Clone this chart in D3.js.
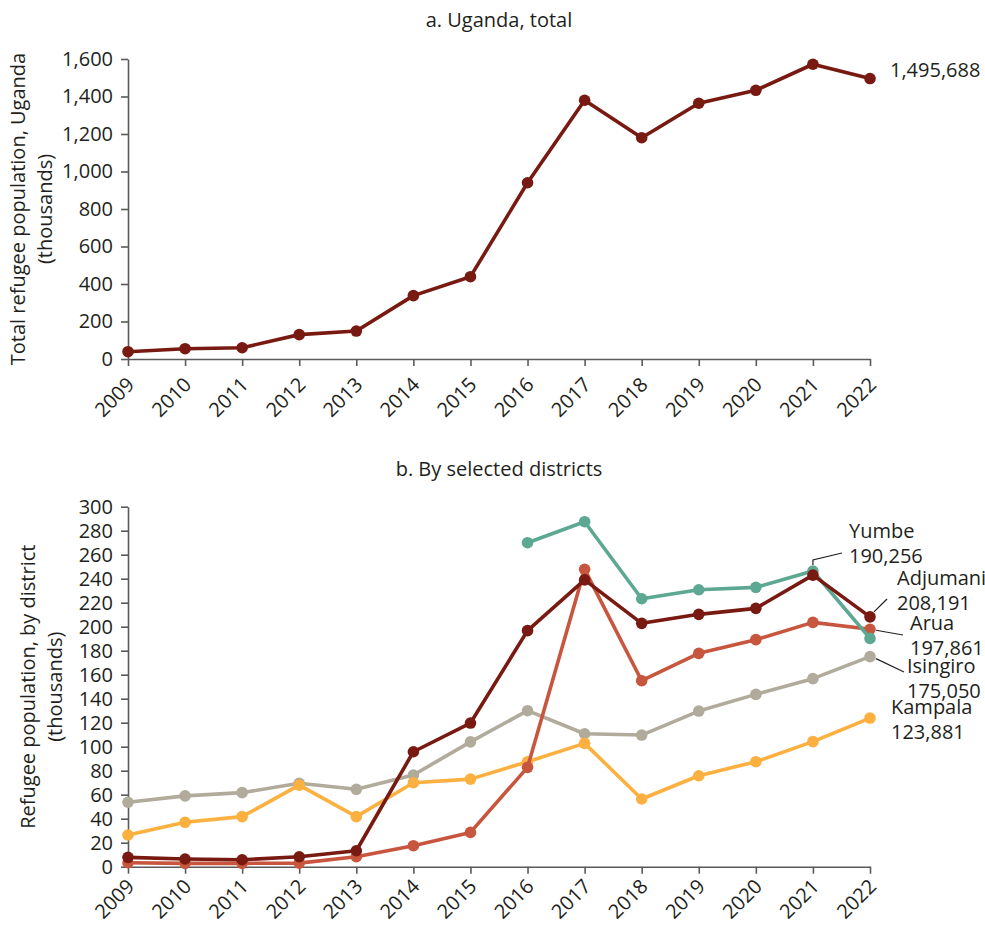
<!DOCTYPE html>
<html>
<head>
<meta charset="utf-8">
<script src="https://cdn.jsdelivr.net/npm/d3@7"></script>
<style>
  html, body { margin: 0; padding: 0; background: #fff; }
  svg text { font-family: "Open Sans", Lato, sans-serif; fill: #231f20; }
</style>
</head>
<body>
<svg id="chart" width="985" height="928"></svg>
<script>
// Years shared by both panels
const years = [2009, 2010, 2011, 2012, 2013, 2014, 2015, 2016, 2017, 2018, 2019, 2020, 2021, 2022];

// Panel a: total refugee population in Uganda (thousands)
const ugandaTotal = [39, 55, 60, 130, 149, 338, 439, 940, 1380, 1180, 1364, 1433, 1572, 1495.688];
const ugandaTicks = [0, 200, 400, 600, 800, 1000, 1200, 1400, 1600];

// Panel b: refugee population by district (thousands), null = no data
const yumbe    = [null, null, null, null, null, null, null, 270, 287.5, 223.3, 230.8, 232.8, 246.4, 190.256];
const adjumani = [7.8, 6.4, 5.8, 8.3, 13.3, 95.8, 119.7, 196.7, 239, 202.8, 210.3, 215.3, 243, 208.191];
const arua     = [3.3, 2.8, 2.8, 3, 8.3, 17.5, 28.6, 82.8, 247.8, 155, 177.8, 189.2, 203.6, 197.861];
const isingiro = [53.7, 59, 61.7, 69.5, 64.5, 76.4, 104, 130, 110.8, 109.7, 129.7, 143.6, 156.7, 175.050];
const kampala  = [26.4, 37, 41.7, 68, 41.7, 70, 73, 87.5, 102.8, 56.4, 75.8, 87.5, 104.2, 123.881];
const districtTicks = d3.range(0, 301, 20);

const svg = d3.select("#chart");
const fmtComma = d3.format(",");
const FS = "20px";

const x = d3.scaleLinear().domain([2009, 2022]).range([128, 870]);

function drawAxes(y, ticks, axisTitle, labelDrop) {
  const [y0] = y.range();
  const g = svg.append("g");
  // x axis with slanted year labels
  const xa = g.append("g").attr("transform", `translate(0,${y0})`)
    .call(d3.axisBottom(x).tickValues(years).tickFormat(d3.format("d")).tickSize(7).tickSizeOuter(0));
  xa.selectAll("text")
    .attr("text-anchor", "end")
    .attr("dy", null)
    .attr("y", 0)
    .attr("transform", `translate(7,${labelDrop}) rotate(-45)`)
    .style("font-size", FS);
  // y axis
  const ya = g.append("g").attr("transform", `translate(${x.range()[0]},0)`)
    .call(d3.axisLeft(y).tickValues(ticks).tickFormat(fmtComma).tickSize(7).tickSizeOuter(0));
  ya.selectAll("text").attr("x", -15).style("font-size", FS);
  g.selectAll(".domain, .tick line").attr("stroke", "#5a5a5a").attr("stroke-width", 1.6);
  g.selectAll(".tick text").attr("fill", "#231f20");
  // rotated two-line axis title
  const [ya0, ya1] = y.range();
  const cy = (ya0 + ya1) / 2;
  const t = g.append("text")
    .attr("transform", `translate(${axisTitle.x},${cy}) rotate(-90)`)
    .attr("text-anchor", "middle")
    .style("font-size", FS);
  t.append("tspan").attr("x", 0).attr("dy", 0).text(axisTitle.lines[0]);
  t.append("tspan").attr("x", 0).attr("dy", 27).text(axisTitle.lines[1]);
}

function drawSeries(y, values, color) {
  const pts = years.map((yr, i) => ({ yr, v: values[i] })).filter(d => d.v != null);
  const line = d3.line().x(d => x(d.yr)).y(d => y(d.v));
  svg.append("path").datum(pts)
    .attr("d", line).attr("fill", "none")
    .attr("stroke", color).attr("stroke-width", 3.6).attr("stroke-linejoin", "round");
  svg.append("g").selectAll("circle").data(pts).join("circle")
    .attr("cx", d => x(d.yr)).attr("cy", d => y(d.v)).attr("r", 5.8)
    .attr("fill", color);
}

// ---------- Panel a ----------
const yTop = d3.scaleLinear().domain([0, 1600]).range([359, 59]);
svg.append("text").attr("x", 499).attr("y", 27).attr("text-anchor", "middle")
  .style("font-size", FS).text("a. Uganda, total");
drawAxes(yTop, ugandaTicks, { x: 25, lines: ["Total refugee population, Uganda", "(thousands)"] }, 27);
drawSeries(yTop, ugandaTotal, "#781a12");
svg.append("text")
  .attr("x", x(2022) + 20).attr("y", yTop(ugandaTotal[13]) - 2)
  .style("font-size", FS)
  .text(fmtComma(Math.round(ugandaTotal[13] * 1000)));

// ---------- Panel b ----------
const yBot = d3.scaleLinear().domain([0, 300]).range([866.7, 506.7]);
svg.append("text").attr("x", 499).attr("y", 476).attr("text-anchor", "middle")
  .style("font-size", FS).text("b. By selected districts");
drawAxes(yBot, districtTicks, { x: 35, lines: ["Refugee population, by district", "(thousands)"] }, 21);

const series = [
  { name: "Isingiro", values: isingiro, color: "#b1ab9c" },
  { name: "Kampala",  values: kampala,  color: "#fbb040" },
  { name: "Arua",     values: arua,     color: "#c8553d" },
  { name: "Yumbe",    values: yumbe,    color: "#5da892" },
  { name: "Adjumani", values: adjumani, color: "#781a12" }
];
series.forEach(s => drawSeries(yBot, s.values, s.color));

// End labels: district name + latest value, with leader lines where crowded
const endLabels = [
  { name: "Yumbe",    v: yumbe[13],    lx: 849, ly: 538, leader: [[x(2021), yBot(yumbe[12]) - 6], [x(2021), 560], [842, 553]] },
  { name: "Adjumani", v: adjumani[13], lx: 897, ly: 585, leader: [[x(2022) + 4, yBot(adjumani[13]) - 5], [887, 599]] },
  { name: "Arua",     v: arua[13],     lx: 910, ly: 630, leader: [[x(2022) + 6, yBot(arua[13]) + 1], [903, 635]] },
  { name: "Isingiro", v: isingiro[13], lx: 907, ly: 673, leader: [[x(2022) + 6, yBot(isingiro[13]) + 2], [904, 672]] },
  { name: "Kampala",  v: kampala[13],  lx: 891, ly: 714, leader: null }
];
endLabels.forEach(l => {
  if (l.leader) {
    svg.append("path").attr("d", d3.line()(l.leader))
      .attr("fill", "none").attr("stroke", "#231f20").attr("stroke-width", 1.2);
  }
  const g = svg.append("g");
  g.append("text").attr("x", l.lx).attr("y", l.ly).style("font-size", FS).text(l.name);
  g.append("text").attr("x", l.lx).attr("y", l.ly + 25).style("font-size", FS)
    .text(fmtComma(Math.round(l.v * 1000)));
});
</script>
</body>
</html>
